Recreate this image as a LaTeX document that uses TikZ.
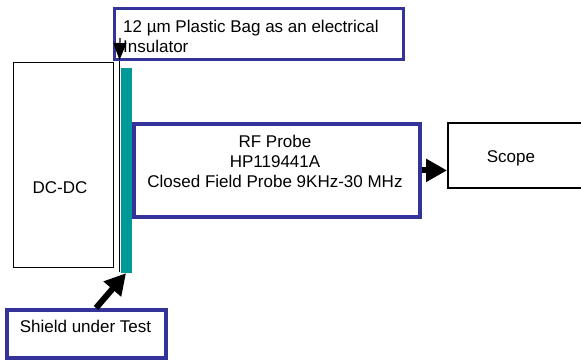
\documentclass[tikz,border=0pt]{standalone}
\usepackage{fontspec}
\setmainfont{Liberation Sans}
\usetikzlibrary{arrows.meta}
\definecolor{bandblue}{RGB}{51,51,153}
\definecolor{shieldteal}{RGB}{0,153,153}

\begin{document}
\begin{tikzpicture}[x=1pt, y=-1pt,
    font=\fontsize{17}{20}\selectfont,
    bluebox/.style={draw=bandblue, line width=3pt, inner sep=0pt},
    blackbox/.style={draw=black, line width=1.3pt, inner sep=0pt},
    fatarrow/.style={line width=6pt, -{Triangle[width=22pt,length=21pt]}},
    thinarrow/.style={line width=1.2pt, -{Triangle[width=13pt,length=17pt]}}]

    \clip (0,0) rectangle (581,363);
    \fill[white] (0,0) rectangle (581,363);

    % converter, bag and shield
    \node[blackbox, minimum width=100pt, minimum height=205pt] (dcdc) at (63.5,165) {};
    \node (dcdctxt) at (60,188) {DC-DC};
    \coordinate (bagtop) at (119.5,60);
    \coordinate (bagbot) at (119.5,272);
    \draw[line width=1.5pt] (bagtop) -- (bagbot);
    \node[fill=shieldteal, minimum width=11pt, minimum height=205pt, inner sep=0pt] (bar) at (126,170.5) {};

    % probe and scope
    \node[bluebox, line width=4pt, minimum width=286pt, minimum height=93pt] (probe) at (276.7,170.4) {};
    \node[align=center] (probetxt) at (275,161.5) {RF Probe\\HP119441A\\Closed Field Probe 9KHz-30 MHz};
    \node[blackbox, line width=2pt, minimum width=140pt, minimum height=65pt] (scope) at (518,156) {};
    \node (scopetxt) at (511,158) {Scope};
    \draw[fatarrow] (probe.east) -- (probe.east -| scope.west);

    % labels
    \node[bluebox, minimum width=289pt, minimum height=51pt] (inslbl) at (259,34) {};
    \node[anchor=north west, align=left, inner sep=0pt] (instxt) at (123,19.5) {12 µm Plastic Bag as an electrical\\Insulator};
    \coordinate (instail) at (120,38);
    \draw[thinarrow] (instail) -- (bagtop);

    \node[bluebox, line width=4pt, minimum width=159pt, minimum height=48pt] (shieldlbl) at (86.5,334) {};
    \node (shieldtxt) at (85.5,326) {Shield under Test};
    \draw[fatarrow] ([xshift=9.5pt]shieldlbl.north) -- (bar.south);

\end{tikzpicture}
\end{document}
